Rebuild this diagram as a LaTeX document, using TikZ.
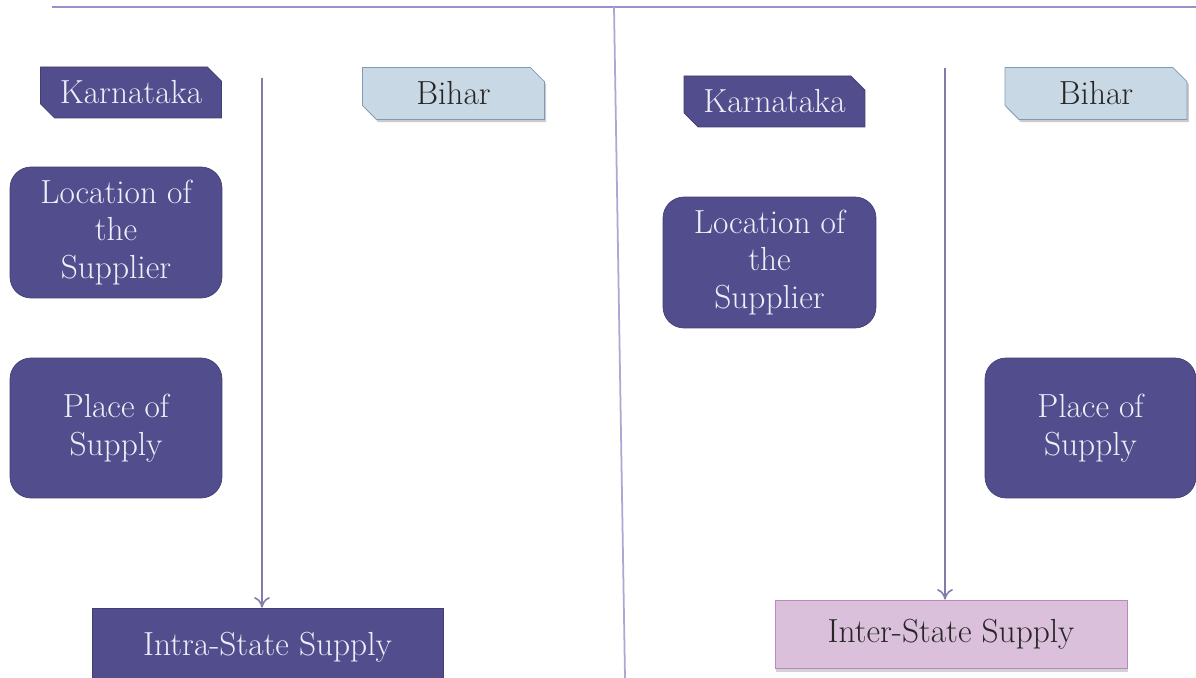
\documentclass[tikz,border=0pt]{standalone}
\usepackage{tikz}
\usetikzlibrary{shapes.misc,shadows,arrows.meta}

\definecolor{darkbox}{RGB}{82,77,141}
\definecolor{boxtext}{RGB}{238,238,248}
\definecolor{lightbox}{RGB}{201,216,229}
\definecolor{lightedge}{RGB}{125,155,185}
\definecolor{pinkbox}{RGB}{218,192,218}
\definecolor{pinkedge}{RGB}{190,135,195}
\definecolor{rulecol}{RGB}{152,146,200}

\tikzset{
  statedark/.style={chamfered rectangle,chamfered rectangle corners={north east,south west},
    chamfered rectangle xsep=4pt,chamfered rectangle ysep=4pt,
    fill=darkbox,draw=darkbox!80!black,thin,text=boxtext,
    minimum width=3.62cm,minimum height=1.02cm,inner sep=0pt},
  statelight/.style={chamfered rectangle,chamfered rectangle corners={north east,south west},
    chamfered rectangle xsep=4pt,chamfered rectangle ysep=4pt,
    fill=lightbox,draw=lightedge,thin,text=black!85,
    drop shadow={shadow xshift=1pt,shadow yshift=-1.5pt,opacity=0.4},
    minimum width=3.64cm,minimum height=1.04cm,inner sep=0pt},
  roundbox/.style={rounded corners=12pt,fill=darkbox,draw=darkbox!80!black,thin,
    text=boxtext,align=center,minimum width=4.24cm,inner sep=0pt},
  flow/.style={draw=rulecol!85!black,line width=0.9pt,-{To[length=6pt,width=9pt]}}
}

\begin{document}
\begin{tikzpicture}[x=0.02cm,y=-0.02cm,
    every node/.style={font=\fontsize{19}{21.5}\selectfont}]
  \clip (0,0) rectangle (1196,678);
  \fill[white] (0,0) rectangle (1196,678);

  % rules
  \draw[rulecol,line width=1.2pt] (52,7) -- (1196,7);
  \draw[rulecol!80,line width=1pt] (614,7) -- (625,678);

  % left half
  \node[statedark] (karL) at (131,92.5) {Karnataka};
  \node[statelight] (bihL) at (453.5,93.5) {Bihar};
  \node[roundbox,minimum height=2.62cm] (locL) at (116,232.5) {Location of\\the\\Supplier};
  \node[roundbox,minimum height=2.8cm] (plaL) at (116,428) {Place of\\Supply};
  \node[fill=darkbox,draw=darkbox!80!black,thin,text=boxtext,
    minimum width=7.02cm,minimum height=1.6cm] (intra) at (267.5,648) {};
  \node[text=boxtext] at (267.5,647) {Intra-State Supply};
  \coordinate (topL) at (262,78);

  % right half
  \node[statedark] (karR) at (774.5,101.5) {Karnataka};
  \node[statelight] (bihR) at (1096,93.5) {Bihar};
  \node[roundbox,minimum height=2.62cm,minimum width=4.26cm] (locR) at (769.5,262.5) {Location of\\the\\Supplier};
  \node[roundbox,minimum height=2.8cm,minimum width=4.22cm] (plaR) at (1090.5,428) {Place of\\Supply};
  \node[fill=pinkbox,draw=pinkedge,thin,text=black!85,
    drop shadow={shadow xshift=0.5pt,shadow yshift=-2pt,opacity=0.35},
    minimum width=7.04cm,minimum height=1.36cm] (inter) at (951,634) {Inter-State Supply};
  \coordinate (topR) at (945,68);

  \draw[flow] (topL) -- (topL |- intra.north);
  \draw[flow] (topR) -- (topR |- inter.north);
\end{tikzpicture}
\end{document}
